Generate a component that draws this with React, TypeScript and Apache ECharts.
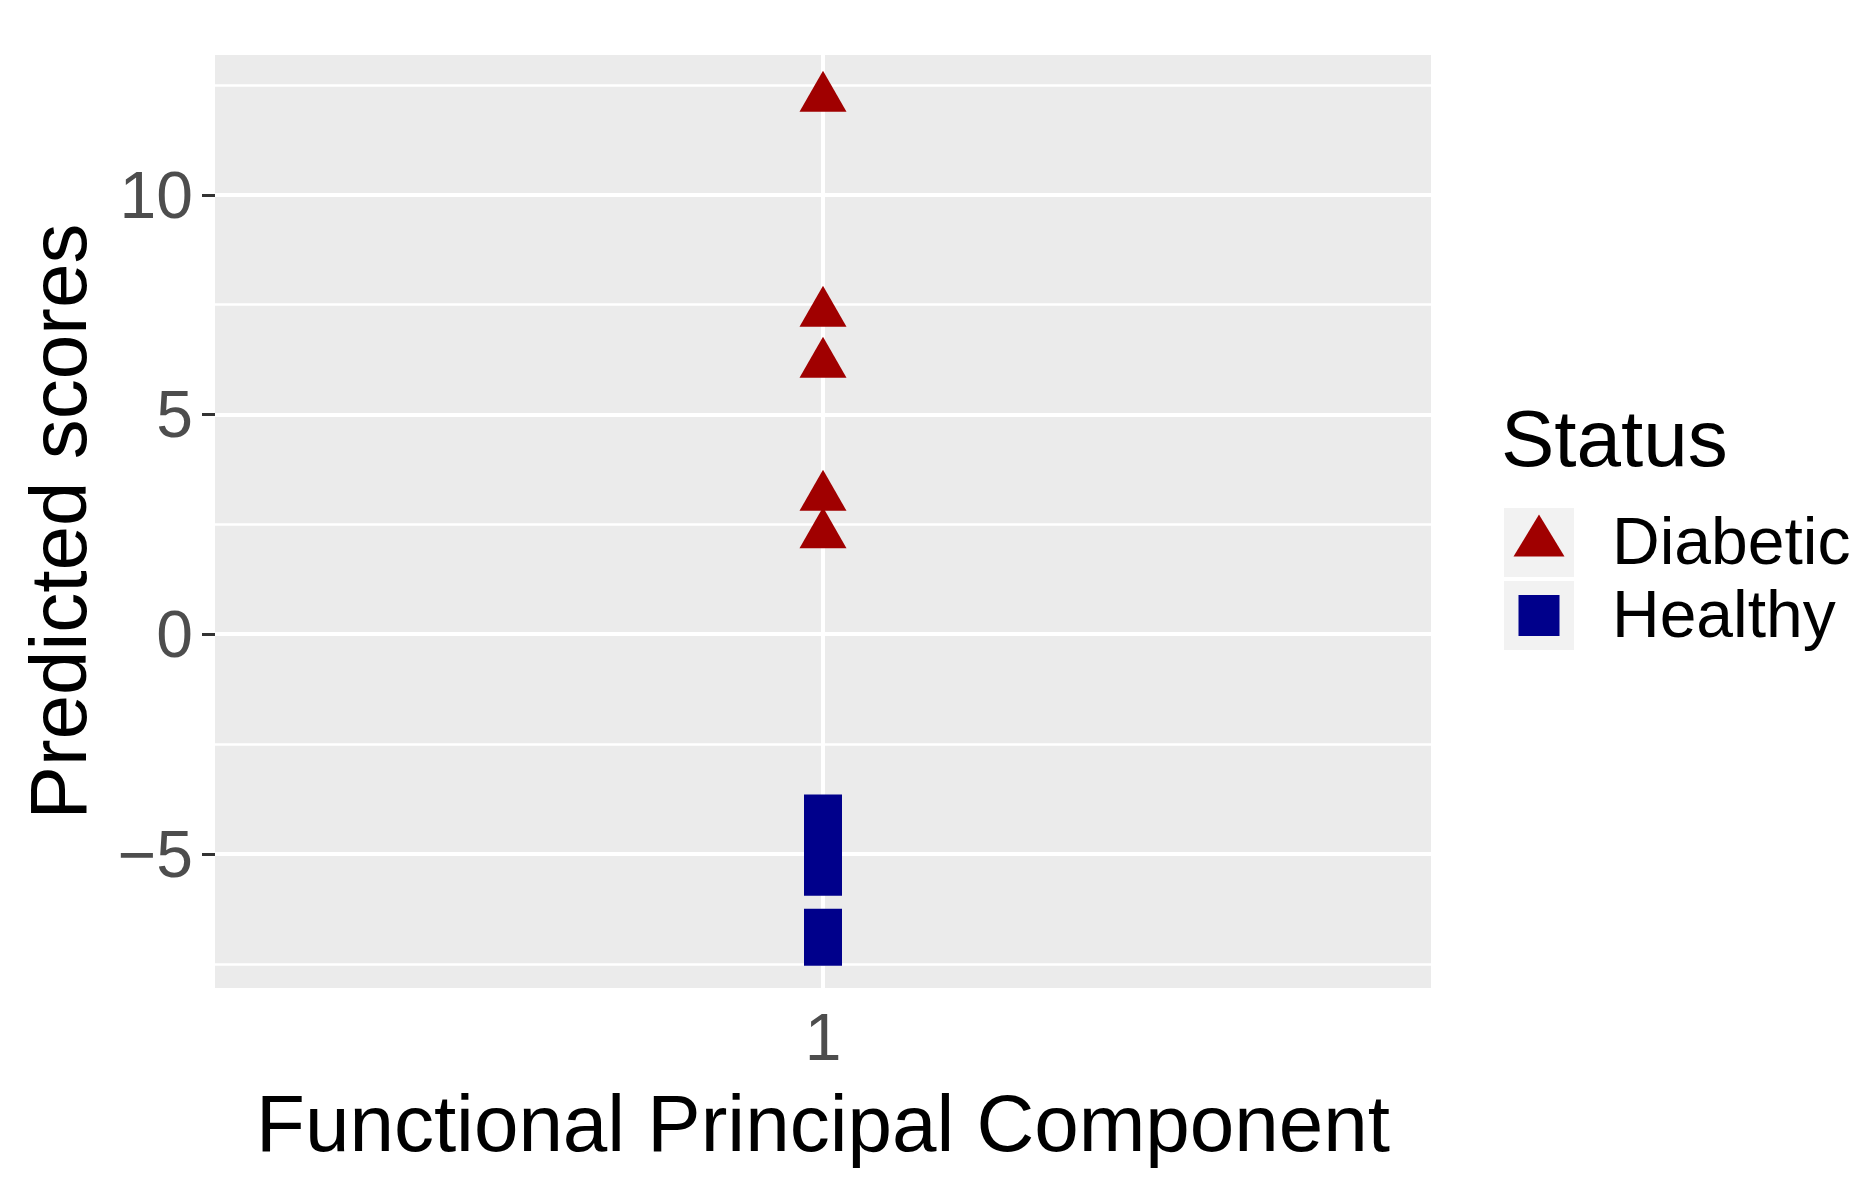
import React, { useEffect, useRef } from "react";
import * as echarts from "echarts";

const categories = ["1"];
const diabeticScores = [12.2, 7.31, 6.15, 3.12, 2.27];
const healthyScores = [-4.08, -4.8, -5.52, -6.68, -7.11];
const yTickValues = [-5, 0, 5, 10];
const yMinorGrid = [-7.5, -2.5, 2.5, 7.5, 12.5];
const yLimits = [-8.05, 13.18];
const seriesNames = ["Diabetic", "Healthy"];
const seriesColors = ["#a00000", "#00008b"];
const legendTitle = "Status";
const xTitle = "Functional Principal Component";
const yTitle = "Predicted scores";

const FONT = "'Liberation Sans', Arial, sans-serif";

function fmt(v: number) {
  return v < 0 ? "\u2212" + Math.abs(v) : String(v);
}

export default function App() {
  const ref = useRef<HTMLDivElement>(null);
  useEffect(() => {
    if (!ref.current) return;
    const chart = echarts.init(ref.current, undefined, { renderer: "svg" });
    const gridLeft = 215;
    const gridTop = 55;
    const gridW = 1216;
    const gridH = 933;

    const keyX = 1504;
    const keyY0 = 508;
    const keyH = 69;
    const keyGap = 4;
    const legendGraphics: any[] = [
      {
        type: "text",
        left: 1501,
        top: 398,
        style: { text: legendTitle, fontSize: 80, fontFamily: FONT, fill: "#000" },
      },
    ];
    seriesNames.forEach((name, i) => {
      const ky = keyY0 + i * (keyH + keyGap);
      const cx = keyX + 35;
      const cy = ky + keyH / 2;
      legendGraphics.push({
        type: "rect",
        shape: { x: keyX, y: ky, width: 70, height: keyH },
        style: { fill: "#f2f2f2" },
      });
      if (i === 0) {
        legendGraphics.push({
          type: "polygon",
          shape: {
            points: [
              [cx, cy - 28],
              [cx + 25.5, cy + 14],
              [cx - 25.5, cy + 14],
            ],
          },
          style: { fill: seriesColors[i] },
        });
      } else {
        legendGraphics.push({
          type: "rect",
          shape: { x: cx - 20.5, y: cy - 20.5, width: 41, height: 41 },
          style: { fill: seriesColors[i] },
        });
      }
      legendGraphics.push({
        type: "text",
        x: 1612,
        y: cy - 2,
        style: {
          text: name,
          fontSize: 66,
          fontFamily: FONT,
          fill: "#000",
          align: "left",
          verticalAlign: "middle",
        },
      });
    });

    const majorLines = yTickValues.map((v) => ({ yAxis: v, lineStyle: { width: 4 } }));
    const minorLines = yMinorGrid.map((v) => ({ yAxis: v, lineStyle: { width: 2.5 } }));

    chart.setOption({
      animation: false,
      backgroundColor: "#ffffff",
      grid: {
        left: gridLeft,
        top: gridTop,
        width: gridW,
        height: gridH,
        show: true,
        backgroundColor: "#ebebeb",
        borderWidth: 0,
      },
      xAxis: {
        type: "category",
        data: categories,
        boundaryGap: true,
        axisLine: { show: false },
        axisTick: {
          show: true,
          alignWithLabel: true,
          length: 13,
          lineStyle: { color: "#333333", width: 3 },
        },
        axisLabel: {
          margin: 16,
          fontSize: 66,
          fontFamily: FONT,
          color: "#4d4d4d",
        },
        splitLine: { show: false },
        name: xTitle,
        nameLocation: "middle",
        nameGap: 95,
        nameTextStyle: { fontSize: 80, fontFamily: FONT, color: "#000" },
      },
      yAxis: {
        type: "value",
        min: yLimits[0],
        max: yLimits[1],
        axisLine: { show: false },
        axisTick: {
          show: true,
          length: 13,
          customValues: yTickValues,
          lineStyle: { color: "#333333", width: 3 },
        },
        axisLabel: {
          margin: 22,
          fontSize: 66,
          fontFamily: FONT,
          color: "#4d4d4d",
          customValues: yTickValues,
          formatter: (v: number) => fmt(v),
        },
        splitLine: { show: false },
        name: yTitle,
        nameLocation: "middle",
        nameRotate: 90,
        nameGap: 117,
        nameTextStyle: { fontSize: 80, fontFamily: FONT, color: "#000" },
      },
      series: [
        {
          type: "scatter",
          name: "grid",
          data: [],
          z: 1,
          silent: true,
          markLine: {
            silent: true,
            z: 1,
            symbol: ["none", "none"],
            label: { show: false },
            animation: false,
            lineStyle: { color: "#ffffff", type: "solid" },
            data: [
              ...minorLines,
              ...majorLines,
              { xAxis: 0, lineStyle: { width: 4 } },
            ],
          },
        },
        {
          type: "scatter",
          name: seriesNames[0],
          z: 10,
          symbol: "triangle",
          symbolSize: [47, 41],
          symbolOffset: [0, -6.8],
          itemStyle: { color: seriesColors[0], opacity: 1 },
          data: diabeticScores.map((v) => [0, v]),
        },
        {
          type: "scatter",
          name: seriesNames[1],
          z: 10,
          symbol: "rect",
          symbolSize: 38,
          itemStyle: { color: seriesColors[1], opacity: 1 },
          data: healthyScores.map((v) => [0, v]),
        },
      ],
      graphic: legendGraphics,
    });
    return () => chart.dispose();
  }, []);
  return (
    <div
      ref={ref}
      style={{ position: "fixed", left: 0, top: 0, width: 1871, height: 1195 }}
    />
  );
}
